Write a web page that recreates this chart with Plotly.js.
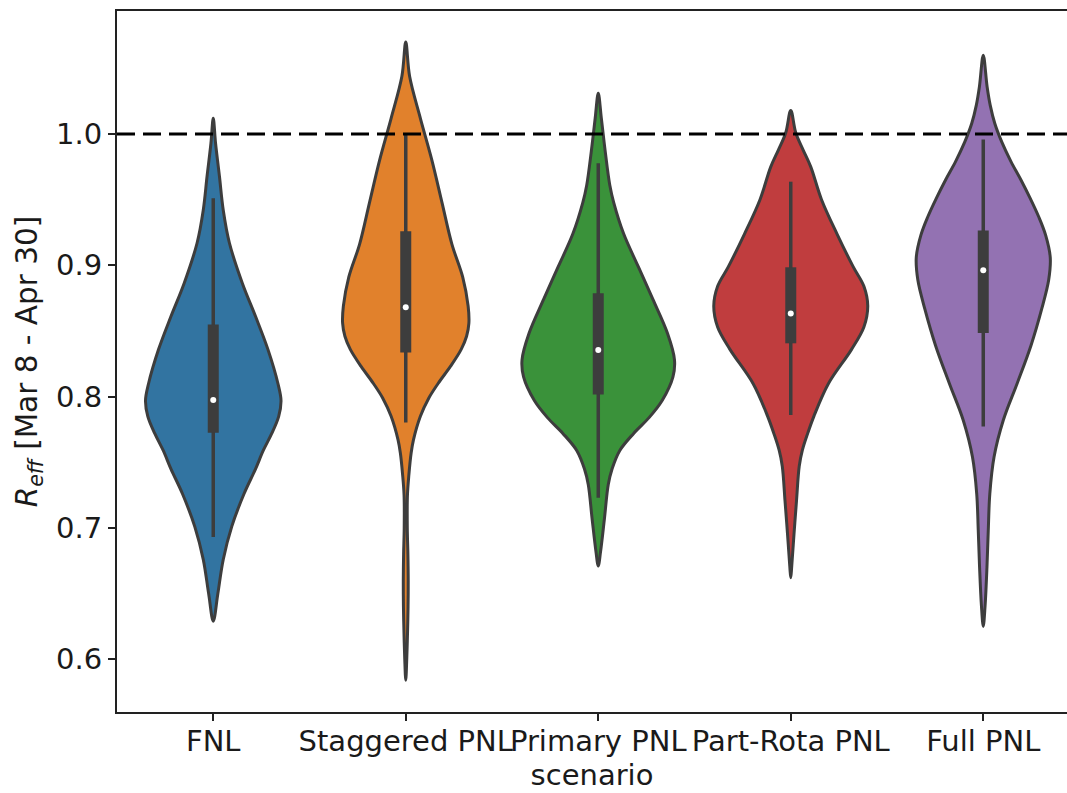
<!DOCTYPE html>
<html>
<head>
<meta charset="utf-8">
<script src="https://cdn.plot.ly/plotly-3.0.1.min.js"></script>
<style>html,body{margin:0;padding:0;background:#fff;}</style>
</head>
<body>
<div id="chart" style="width:1067px;height:793px;"></div>
<script>
// ---- Data ----
const categories = ['FNL', 'Staggered PNL', 'Primary PNL', 'Part-Rota PNL', 'Full PNL'];
const colors = ['#3274a1', '#e1812c', '#3a923a', '#c03d3e', '#9372b2'];

// Violin outlines: R_eff level and relative density (1 = widest violin)
const fnlY = [1.012, 0.993, 0.968, 0.942, 0.917, 0.886, 0.861, 0.836, 0.810, 0.797, 0.785, 0.772, 0.759, 0.745, 0.726, 0.701, 0.676, 0.650, 0.629];
const fnlDensity = [0, 0.03, 0.08, 0.13, 0.21, 0.38, 0.55, 0.71, 0.84, 0.88, 0.85, 0.76, 0.65, 0.55, 0.40, 0.24, 0.13, 0.06, 0];

const staggeredY = [1.070, 1.044, 1.012, 0.980, 0.948, 0.916, 0.891, 0.869, 0.856, 0.846, 0.836, 0.823, 0.810, 0.799, 0.785, 0.767, 0.757, 0.740, 0.725, 0.700, 0.680, 0.660, 0.640, 0.620, 0.600, 0.584];
const staggeredDensity = [0, 0.05, 0.19, 0.34, 0.47, 0.60, 0.74, 0.81, 0.82, 0.79, 0.72, 0.58, 0.42, 0.30, 0.19, 0.10, 0.07, 0.04, 0.022, 0.02, 0.028, 0.032, 0.03, 0.023, 0.013, 0];

const primaryY = [1.031, 1.012, 0.987, 0.961, 0.948, 0.924, 0.899, 0.874, 0.848, 0.828, 0.815, 0.797, 0.784, 0.772, 0.759, 0.745, 0.733, 0.707, 0.682, 0.671];
const primaryDensity = [0, 0.04, 0.09, 0.15, 0.20, 0.33, 0.52, 0.71, 0.90, 0.99, 0.97, 0.83, 0.66, 0.46, 0.28, 0.18, 0.13, 0.08, 0.03, 0];

const partRotaY = [1.018, 1.001, 0.988, 0.975, 0.950, 0.924, 0.899, 0.884, 0.869, 0.853, 0.836, 0.810, 0.785, 0.772, 0.759, 0.747, 0.721, 0.696, 0.671, 0.662];
const partRotaDensity = [0, 0.065, 0.16, 0.26, 0.40, 0.60, 0.81, 0.95, 1.0, 0.95, 0.79, 0.49, 0.30, 0.22, 0.15, 0.11, 0.075, 0.043, 0.013, 0];

const fullY = [1.060, 1.036, 1.022, 1.008, 0.994, 0.979, 0.965, 0.951, 0.937, 0.923, 0.906, 0.889, 0.867, 0.839, 0.810, 0.782, 0.754, 0.726, 0.698, 0.670, 0.641, 0.625];
const fullDensity = [0, 0.05, 0.09, 0.15, 0.24, 0.36, 0.49, 0.61, 0.72, 0.81, 0.87, 0.85, 0.76, 0.62, 0.44, 0.26, 0.14, 0.085, 0.065, 0.048, 0.024, 0];

// Inner box statistics
const q1 = [0.7725, 0.8336, 0.8017, 0.8406, 0.8484];
const medians = [0.7974, 0.8680, 0.8355, 0.8634, 0.8963];
const q3 = [0.8550, 0.9259, 0.8787, 0.8985, 0.9265];
const whiskerLow = [0.6930, 0.7802, 0.7230, 0.7860, 0.7772];
const whiskerHigh = [0.9510, 1.0000, 0.9777, 0.9637, 0.9958];

const referenceLevel = 1.0;
const yTicks = [0.6, 0.7, 0.8, 0.9, 1.0];
const yTickText = ['0.6', '0.7', '0.8', '0.9', '1.0'];

// ---- Build traces ----
const profiles = [[fnlY, fnlDensity], [staggeredY, staggeredDensity], [primaryY, primaryDensity], [partRotaY, partRotaDensity], [fullY, fullDensity]];
const maxHalfWidth = 0.4;
const dark = '#3d3d3d';
const positions = categories.map((c, i) => i);
const traces = [];

profiles.forEach(([ys, ds], i) => {
  const xs = [], yy = [];
  for (let k = 0; k < ys.length; k++) { xs.push(i + maxHalfWidth * ds[k]); yy.push(ys[k]); }
  for (let k = ys.length - 2; k >= 0; k--) { xs.push(i - maxHalfWidth * ds[k]); yy.push(ys[k]); }
  traces.push({
    type: 'scatter', mode: 'lines', x: xs, y: yy, fill: 'toself', fillcolor: colors[i],
    line: {color: dark, width: 3, shape: 'spline', smoothing: 1.0},
    name: categories[i], hoverinfo: 'name', showlegend: false
  });
});

// whiskers and boxes as line segments built from the statistics
const whiskX = [], whiskY = [], boxX = [], boxY = [];
positions.forEach(i => {
  whiskX.push(i, i, null); whiskY.push(whiskerLow[i], whiskerHigh[i], null);
  boxX.push(i, i, null); boxY.push(q1[i], q3[i], null);
});
traces.push({type: 'scatter', mode: 'lines', x: whiskX, y: whiskY, line: {color: dark, width: 3.5}, showlegend: false, hoverinfo: 'skip'});
traces.push({type: 'scatter', mode: 'lines', x: boxX, y: boxY, line: {color: dark, width: 11}, showlegend: false, hoverinfo: 'skip'});

traces.push({
  type: 'scatter', mode: 'markers', x: positions, y: medians,
  marker: {color: '#ffffff', size: 6, line: {width: 0}},
  showlegend: false, hoverinfo: 'skip'
});

const fontFamily = 'DejaVu Sans, sans-serif';
const textColor = '#1a1a1a';

const layout = {
  width: 1067, height: 793,
  margin: {l: 117, r: 0, t: 11, b: 81, pad: 0},
  paper_bgcolor: '#ffffff', plot_bgcolor: '#ffffff',
  font: {family: fontFamily, size: 29, color: textColor},
  showlegend: false,
  xaxis: {
    range: [-0.5, 4.435], tickmode: 'array', tickvals: positions, ticktext: categories,
    tickangle: 0, ticklabelstandoff: -5,
    showgrid: false, zeroline: false, showline: true, mirror: true,
    linecolor: '#222222', linewidth: 2,
    ticks: 'outside', ticklen: 7, tickwidth: 2, tickcolor: '#222222',
    tickfont: {family: fontFamily, size: 29, color: textColor},
    title: {text: 'scenario', font: {family: fontFamily, size: 29, color: textColor}, standoff: 1},
    automargin: false
  },
  yaxis: {
    range: [0.5598, 1.0937], tickmode: 'array', tickvals: yTicks, ticktext: yTickText,
    showgrid: false, zeroline: false, showline: true, mirror: false,
    linecolor: '#222222', linewidth: 2,
    ticks: 'outside', ticklen: 7, tickwidth: 2, tickcolor: '#222222',
    tickfont: {family: fontFamily, size: 29, color: textColor},
    title: {text: '<i>R</i><sub><i>eff</i></sub> [Mar 8 - Apr 30]', font: {family: fontFamily, size: 29.5, color: textColor}, standoff: 10},
    automargin: false
  },
  shapes: [{
    type: 'line', xref: 'paper', yref: 'y', x0: 0, x1: 1, y0: referenceLevel, y1: referenceLevel,
    line: {color: '#000000', width: 3, dash: '18px,8px'}, layer: 'above'
  }]
};

Plotly.newPlot('chart', traces, layout, {staticPlot: true, displayModeBar: false});
</script>
</body>
</html>
